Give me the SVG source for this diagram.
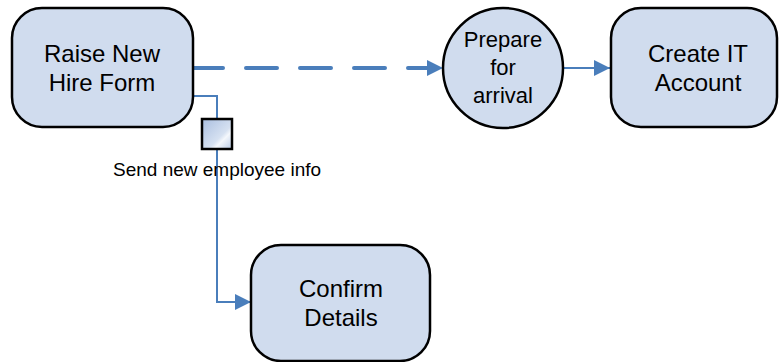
<svg xmlns="http://www.w3.org/2000/svg" width="779" height="362" viewBox="0 0 779 362">
<style>
.node{fill:#D0DCEE;stroke:#000;stroke-width:2.5}
.lbl{font-family:"Liberation Sans",Arial,sans-serif;font-size:24px;fill:#000;text-anchor:middle}
.sm{font-family:"Liberation Sans",Arial,sans-serif;font-size:22px;fill:#000;text-anchor:middle}
.edge{fill:none;stroke:#4A7EBB;stroke-width:2}
.dash{fill:none;stroke:#4A7EBB;stroke-width:4;stroke-dasharray:31 23;stroke-linecap:round}
.cap{font-family:"Liberation Sans",Arial,sans-serif;font-size:19px;fill:#000}
</style>
<defs>
<marker id="ah" markerUnits="userSpaceOnUse" markerWidth="16" markerHeight="16" refX="16" refY="8" orient="auto">
<path d="M0,0 L16,8 L0,16 Z" fill="#4A7EBB"/>
</marker>
<linearGradient id="doc" x1="0" y1="0" x2="1" y2="1">
<stop offset="0" stop-color="#A9BEDF"/>
<stop offset="0.6" stop-color="#D6E1F1"/>
<stop offset="0.7" stop-color="#F4F7FC"/>
<stop offset="1" stop-color="#B9CBE6"/>
</linearGradient>
</defs>
<g id="connectors">
<path class="dash" d="M192,68 L427,68"/>
<path d="M427,60 L443,68 L427,76 Z" fill="#4A7EBB"/>
<path class="edge" d="M563,68 L610,68" marker-end="url(#ah)"/>
<path class="edge" d="M193,96 L217,96 L217,302 L251,302" marker-end="url(#ah)"/>
</g>
<g id="data-object">
<rect x="202" y="119" width="30" height="30" fill="url(#doc)" stroke="#000" stroke-width="2.5"/>
<text class="cap" x="113" y="176">Send new employee info</text>
</g>
<g id="raise-new-hire-form">
<rect class="node" x="12" y="8" width="181" height="119" rx="30"/>
<text class="lbl" x="102" y="62">Raise New</text>
<text class="lbl" x="102" y="91">Hire Form</text>
</g>
<g id="prepare-for-arrival">
<circle class="node" cx="503" cy="68" r="60"/>
<text class="sm" x="503" y="47">Prepare</text>
<text class="sm" x="503" y="75">for</text>
<text class="sm" x="503" y="103">arrival</text>
</g>
<g id="create-it-account">
<rect class="node" x="611" y="8" width="166" height="119" rx="30"/>
<text class="lbl" x="698" y="62">Create IT</text>
<text class="lbl" x="698" y="91">Account</text>
</g>
<g id="confirm-details">
<rect class="node" x="251" y="245" width="179" height="116" rx="30"/>
<text class="lbl" x="341" y="297">Confirm</text>
<text class="lbl" x="341" y="326">Details</text>
</g>
</svg>
